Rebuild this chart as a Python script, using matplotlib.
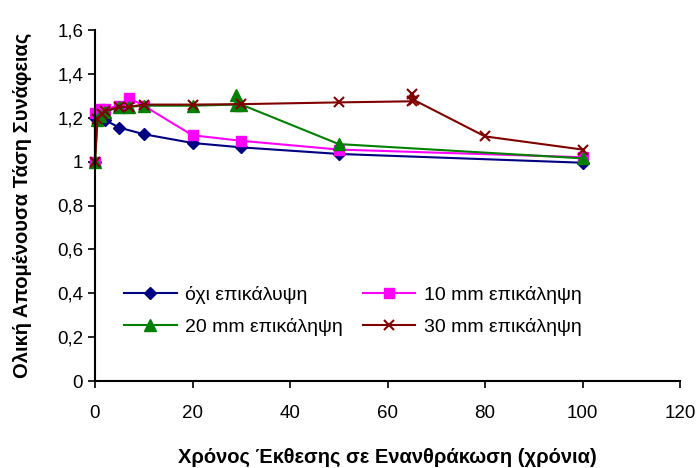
import matplotlib
matplotlib.use("Agg")
import matplotlib.pyplot as plt
from matplotlib.ticker import FuncFormatter, MultipleLocator

plt.rcParams["font.family"] = ["Liberation Sans", "DejaVu Sans"]

# values
blue_x = [0, 0, 1, 2, 5, 10, 20, 30, 50, 100]
blue_y = [1.0, 1.2, 1.2, 1.19, 1.155, 1.125, 1.085, 1.065, 1.035, 0.995]

pink_x = [0, 0, 1, 2, 5, 7, 10, 20, 30, 50, 100]
pink_y = [1.0, 1.22, 1.24, 1.24, 1.255, 1.29, 1.255, 1.12, 1.095, 1.055, 1.02]

green_x = [0, 0.5, 1, 2, 5, 7, 10, 20, 29, 29, 30, 50, 100]
green_y = [1.0, 1.19, 1.21, 1.225, 1.25, 1.25, 1.255, 1.255, 1.26, 1.305, 1.26, 1.08, 1.015]

red_x = [0, 0.5, 1.5, 2, 5, 7, 10, 20, 30, 50, 65, 65, 65.5, 80, 100]
red_y = [1.0, 1.195, 1.215, 1.23, 1.25, 1.25, 1.26, 1.26, 1.262, 1.27, 1.275, 1.31, 1.28, 1.115, 1.055]

labels = ["όχι επικάλυψη", "10 mm επικάληψη", "20 mm επικάληψη", "30 mm επικάληψη"]

fig = plt.figure(figsize=(6.97, 4.68), dpi=100)
ax = fig.add_axes([95 / 697, 1 - 381 / 468, 585 / 697, 351 / 468])

l1, = ax.plot(blue_x, blue_y, color="#000080", lw=1.5, marker="D", ms=6.5, clip_on=False)
l2, = ax.plot(pink_x, pink_y, color="#ff00ff", lw=1.5, marker="s", ms=7.5, clip_on=False)
l3, = ax.plot(green_x, green_y, color="#008000", lw=1.5, marker="^", ms=8.5, clip_on=False)
l4, = ax.plot(red_x, red_y, color="#800000", lw=1.5, marker="x", ms=7, mew=1.5, clip_on=False)

ax.set_xlim(0, 120)
ax.set_ylim(0, 1.6)
ax.xaxis.set_major_locator(MultipleLocator(20))
ax.yaxis.set_major_locator(MultipleLocator(0.2))
ax.yaxis.set_major_formatter(FuncFormatter(lambda v, p: f"{v:.1f}".replace(".", ",").replace(",0", "")))
ax.tick_params(direction="out", length=5, width=1.2, labelsize=13.5, colors="black")
ax.tick_params(axis="x", pad=12)
for s in ["top", "right"]:
    ax.spines[s].set_visible(False)
for s in ["left", "bottom"]:
    ax.spines[s].set_linewidth(1.5)

ax.set_xlabel("Χρόνος Έκθεσης σε Ενανθράκωση (χρόνια)", fontsize=14.5, fontweight="bold", labelpad=19)
ax.set_ylabel("Ολική Απομένουσα Τάση Συνάφειας", fontsize=14.5, fontweight="bold", labelpad=18)

# row-major order like the original: blue, pink / green, red
ax.legend([l1, l3, l2, l4], [labels[0], labels[2], labels[1], labels[3]],
          loc="center left", bbox_to_anchor=(0.02, 0.2), ncol=2, frameon=False, fontsize=14,
          handlelength=2.7, columnspacing=1.0, labelspacing=0.75, handletextpad=0.45)

fig.savefig("out.png", dpi=100)
